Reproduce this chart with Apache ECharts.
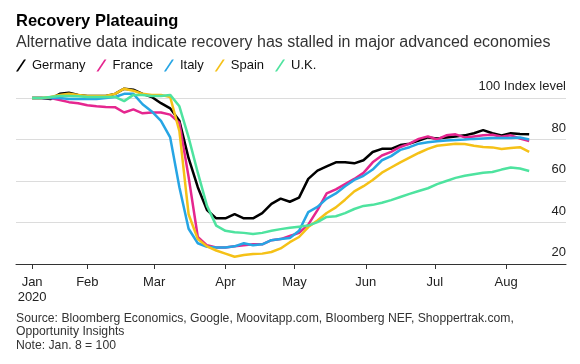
<!DOCTYPE html>
<html><head><meta charset="utf-8">
<script src="https://cdn.jsdelivr.net/npm/echarts@6/dist/echarts.min.js"></script>
<style>html,body{margin:0;padding:0;background:#fff}#c{width:580px;height:364px}</style>
</head><body><div id="c"></div>
<script>
// Day of year (Jan 1 = 0); Jan 8 = day 7
const days = [7,11,15,19,23,27,31,35,39,43,47,51,55,59,63,67,71,75,79,83,87,91,95,99,103,107,111,115,119,123,127,131,135,139,143,147,151,155,159,163,167,171,175,179,183,187,191,195,199,203,207,211,215,219,223];
const monthTickDays = [7,31,60,91,121,152,182,213];
const monthLabels = ['Jan\n2020','Feb','Mar','Apr','May','Jun','Jul','Aug'];
const seriesNames = ['Germany','France','Italy','Spain','U.K.'];

const germany = [100,100,99.5,102,102.5,101.5,101,101,101,102,104.5,104,102,100.5,97.5,95,89,71,57,46,42,42,44,42,42,44.5,49,51.5,50,52,61,65,67,69,69,68.5,70,74,75.5,75.5,77.3,78,79.5,81,80.5,81,81.5,82,83,84.5,83,82,83,82.7,82.5];
const france = [100,100,100,99,98,97.5,96.5,96,95.7,95.6,93,94.5,92.6,93,93,92,88,62,33,29,28,28,28.5,29,29.5,29.5,31.5,32,33.5,35,39,46,54,56,58.5,61,63.9,69,72.3,74,76.4,78,80.3,81.5,80,82,82.5,81,81.5,82,82.3,81.3,82,80.5,79.3];
const italy = [100,100,100,100,99.5,99.5,99.5,99.5,100,100.5,102,102,97,93.5,89,81,57,37,30,28.3,28,28,28.5,30,29,29.5,31.5,32,32.5,36,45,47.5,51.5,54,57.5,60.5,62.5,65.5,70,72,75,76.3,78,78.7,79.2,79.5,79.8,80,80.3,80.5,80.7,80.7,80.7,81,80];
const spain = [100,100,100.5,101.5,102,101.5,101,101,101,102,104.5,103.5,102,101.5,101.5,100.5,84,44,32,28.5,26.5,25,23.5,24.3,24.8,25,25.8,27.5,30.5,33,37.8,41,44.6,47.3,51,55,57.5,60.5,64,66.5,69,71.3,73.5,75.5,77,77.5,78,77.8,77,76.4,76.2,75.4,75.9,76.3,74];
const uk = [100,100,100.5,101,101,100.8,100.5,100.5,100.5,100.5,98.5,101.5,101.5,101,101,101.5,96,81,64,48,38.5,36,35.3,35,34.5,35,36,36.8,37.5,38,38.5,40.2,42.7,43,44.5,46.5,48,48.5,49.5,50.8,52.3,53.8,55.2,56.5,58.5,60,61.5,62.5,63.3,64,64.3,65.5,66.5,66,64.8];

const colors = ['#000000','#e5268f','#26a5e4','#f5c117','#4ee39f'];
const values = [germany, france, italy, spain, uk];
const FF = '"Liberation Sans", Arial, sans-serif';

const chart = echarts.init(document.getElementById('c'), null, {renderer:'canvas'});
chart.setOption({
  animation: false,
  backgroundColor: '#fff',
  title: [
    {text: 'Recovery Plateauing', left: 16, top: 13, padding: 0,
     textStyle: {fontFamily: FF, fontSize: 16.5, fontWeight: 'bold', color: '#000'}},
    {text: 'Alternative data indicate recovery has stalled in major advanced economies', left: 16, top: 35, padding: 0,
     textStyle: {fontFamily: FF, fontSize: 16, fontWeight: 'normal', color: '#333'}},
    {text: 'Source: Bloomberg Economics, Google, Moovitapp.com, Bloomberg NEF, Shoppertrak.com,\nOpportunity Insights\nNote: Jan. 8 = 100', left: 16, top: 312, padding: 0,
     textStyle: {fontFamily: FF, fontSize: 12.2, fontWeight: 'normal', color: '#333', lineHeight: 13.3}}
  ],
  legend: {
    left: 16, top: 59, padding: 0, itemWidth: 10, itemHeight: 12, itemGap: 11,
    icon: 'path://M0,12L8,0L10,0L2,12Z',
    textStyle: {fontFamily: FF, fontSize: 13, color: '#111', padding: [0,0,0,1]},
    data: seriesNames
  },
  grid: {left: 16, right: 14, top: 98, bottom: 100},
  xAxis: {
    type: 'value', min: 0, max: 239,
    axisLine: {show: true, onZero: false, lineStyle: {color: '#333', width: 1}},
    axisTick: {show: true, customValues: monthTickDays, length: 5, lineStyle: {color: '#333'}},
    axisLabel: {customValues: monthTickDays, formatter: v => monthLabels[monthTickDays.indexOf(v)],
      fontFamily: FF, fontSize: 13, color: '#222', lineHeight: 15, margin: 11},
    splitLine: {show: false}
  },
  yAxis: {
    type: 'value', position: 'right', min: 20, max: 100, interval: 20,
    axisLine: {show: false}, axisTick: {show: false},
    splitLine: {lineStyle: {color: '#dcdcdc', width: 1}},
    axisLabel: {inside: true, margin: 0, verticalAlign: 'bottom', padding: [0,0,5,0],
      fontFamily: FF, fontSize: 13, color: '#222',
      formatter: v => v === 100 ? '100 Index level' : String(v)}
  },
  series: seriesNames.map((n, k) => ({
    name: n, type: 'line', showSymbol: false, symbol: 'none', clip: false,
    color: colors[k],
    lineStyle: {width: 2.5, color: colors[k]},
    data: days.map((d, i) => [d, values[k][i]])
  }))
});
</script></body></html>
